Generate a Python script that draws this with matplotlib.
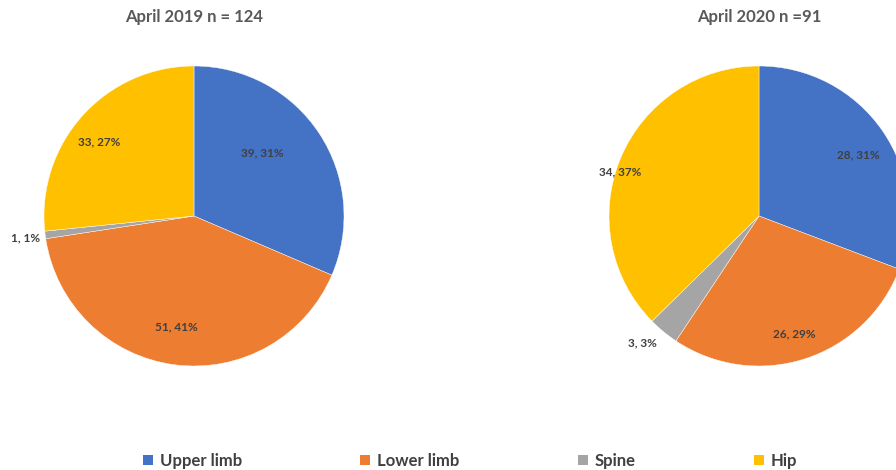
import matplotlib
matplotlib.use("Agg")
import matplotlib.pyplot as plt
import numpy as np
from matplotlib.patches import Patch

categories = ["Upper limb", "Lower limb", "Spine", "Hip"]
values_2019 = [39, 51, 1, 33]
values_2020 = [28, 26, 3, 34]
titles = ["April 2019 n = 124", "April 2020 n =91"]
colors = ["#4472C4", "#ED7D31", "#A5A5A5", "#FFC000"]

plt.rcParams['font.family'] = ['Lato', 'DejaVu Sans']

W, H = 896, 470
fig = plt.figure(figsize=(W / 100, H / 100), dpi=100)
fig.patch.set_facecolor("white")

R = 150
centers = [(194, 216), (759, 216)]
label_r = [[0.62, 0.75, 1.13, 0.8], [0.78, 0.82, 1.15, 0.97]]
label_da = [[9, -2, 0, 4], [-3, -1, -3, 5]]

for i, (vals, title) in enumerate(zip([values_2019, values_2020], titles)):
    cx, cy = centers[i]
    ax = fig.add_axes([(cx - R) / W, (H - cy - R) / H, 2 * R / W, 2 * R / H])
    wedges, _ = ax.pie(vals, colors=colors, startangle=90, counterclock=False,
                       wedgeprops=dict(edgecolor="white", linewidth=0.3))
    ax.set_xlim(-1, 1)
    ax.set_ylim(-1, 1)
    ax.set_aspect("equal")
    total = sum(vals)
    for j, w in enumerate(wedges):
        ang = np.deg2rad((w.theta1 + w.theta2) / 2 + label_da[i][j])
        r = label_r[i][j]
        pct = round(100 * vals[j] / total)
        ax.text(r * np.cos(ang), r * np.sin(ang), f"{vals[j]}, {pct}%",
                ha="center", va="center", fontsize=8.5, fontweight="bold",
                color="#404040", clip_on=False)
    fig.text(cx / W, 1 - 17 / H, title, ha="center", va="center",
             fontsize=12, fontweight="bold", color="#595959")

handles = [Patch(facecolor=c, edgecolor="none") for c in colors]
fig.legend(handles, categories, loc="center", bbox_to_anchor=(470 / W, 1 - 461 / H),
           ncol=4, frameon=False, columnspacing=7.1,
           handlelength=0.6, handleheight=0.6, handletextpad=0.4,
           prop=dict(weight="bold", size=12))
for t in fig.legends[0].get_texts():
    t.set_color("#404040")

fig.savefig("out.png", dpi=100, facecolor="white")
